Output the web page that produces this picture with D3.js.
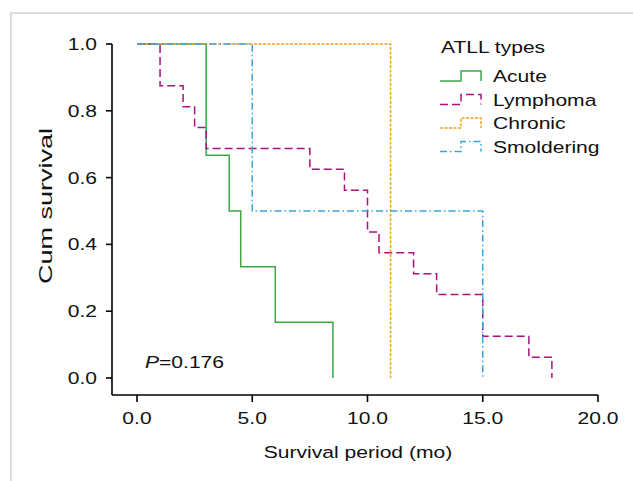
<meta charset="utf-8">
<style>
body { margin: 0; background: #fff; }
text { font-family: "Liberation Sans", Arial, sans-serif; fill: #111; }
</style>
<body>
<script src="https://cdn.jsdelivr.net/npm/d3@7"></script>
<script>
// survival steps (time in months, cum survival after the drop)
var seriesNames = ["Acute", "Lymphoma", "Chronic", "Smoldering"];
var acuteTimes = [0, 3, 4, 4.5, 6, 8.5];
var acuteSurv  = [1, 0.6667, 0.5, 0.3333, 0.1667, 0];
var lymphTimes = [0, 1, 2, 2.5, 3, 7.5, 9, 10, 10.5, 12, 13, 15, 17, 18];
var lymphSurv  = [1, 0.875, 0.8125, 0.75, 0.6875, 0.625, 0.5625, 0.4375, 0.375, 0.3125, 0.25, 0.125, 0.0625, 0];
var chronTimes = [0, 11];
var chronSurv  = [1, 0];
var smolTimes  = [0, 5, 15];
var smolSurv   = [1, 0.5, 0];
var xTicks = [0, 5, 10, 15, 20];
var yTicks = [0, 0.2, 0.4, 0.6, 0.8, 1.0];

var colors = ["#3aa845", "#a8137f", "#f5a020", "#3aa5dc"];
var dashes = [null, "8,4", "3,1.5", "7,3,1.5,3"];
var series = [
  {times: acuteTimes, surv: acuteSurv},
  {times: lymphTimes, surv: lymphSurv},
  {times: chronTimes, surv: chronSurv},
  {times: smolTimes, surv: smolSurv}
];

var W = 633, H = 481, sx = 1.24;

var svg = d3.select("body").append("svg")
    .attr("width", W)
    .attr("height", H);

// light frame of the figure
svg.append("path")
    .attr("d", "M11,481V13H633")
    .attr("fill", "none")
    .attr("stroke", "#dcdcdc")
    .attr("stroke-width", 2);

var x = d3.scaleLinear().domain([0, 20]).range([137, 598]);
var y = d3.scaleLinear().domain([0, 1]).range([378, 44]);

var axisX = x(0) - 25, axisY = y(0) + 17;

function label(px, py, str, anchor, size) {
  var t = svg.append("text")
      .attr("transform", "translate(" + px + "," + py + ") scale(" + sx + ",1)")
      .attr("text-anchor", anchor || "start")
      .style("font-size", (size || 17) + "px")
      .text(str);
  return t;
}

// axes lines
svg.append("line")
    .attr("x1", axisX).attr("x2", axisX)
    .attr("y1", y(1)).attr("y2", axisY)
    .attr("stroke", "#000").attr("stroke-width", 1.6);
svg.append("line")
    .attr("x1", axisX).attr("x2", x(20))
    .attr("y1", axisY).attr("y2", axisY)
    .attr("stroke", "#000").attr("stroke-width", 1.6);

// y ticks
yTicks.forEach(function(v) {
  svg.append("line")
      .attr("x1", axisX - 6).attr("x2", axisX)
      .attr("y1", y(v)).attr("y2", y(v))
      .attr("stroke", "#000").attr("stroke-width", 1.6);
  label(axisX - 15, y(v) + 6, d3.format(".1f")(v), "end");
});

// x ticks
xTicks.forEach(function(v) {
  svg.append("line")
      .attr("x1", x(v)).attr("x2", x(v))
      .attr("y1", axisY).attr("y2", axisY + 7)
      .attr("stroke", "#000").attr("stroke-width", 1.6);
  label(x(v), axisY + 29, d3.format(".1f")(v), "middle");
});

label(358, 458, "Survival period (mo)", "middle");

svg.append("text")
    .attr("transform", "translate(52,206) rotate(-90) scale(1.42,1)")
    .attr("text-anchor", "middle")
    .style("font-size", "19px")
    .text("Cum survival");

// curves
var line = d3.line()
    .x(function(d) { return x(d[0]); })
    .y(function(d) { return y(d[1]); })
    .curve(d3.curveStepAfter);

series.forEach(function(s, i) {
  var pts = s.times.map(function(t, j) { return [t, s.surv[j]]; });
  svg.append("path")
      .datum(pts)
      .attr("d", line)
      .attr("fill", "none")
      .attr("stroke", colors[i])
      .attr("stroke-width", 1.5)
      .attr("stroke-dasharray", dashes[i]);
});

// p value
var pt = svg.append("text")
    .attr("transform", "translate(145,368) scale(" + sx + ",1)")
    .style("font-size", "17px");
pt.append("tspan").style("font-style", "italic").text("P");
pt.append("tspan").text("=0.176");

// legend
label(441, 53, "ATLL types");
seriesNames.forEach(function(name, i) {
  var ly = 81 + i * 23.5;
  svg.append("path")
      .attr("d", "M440," + ly + "H461V" + (ly - 10) + "H481V" + ly)
      .attr("fill", "none")
      .attr("stroke", colors[i])
      .attr("stroke-width", 1.5)
      .attr("stroke-dasharray", dashes[i]);
  label(493, ly + 1, name);
});
</script>
</body>
